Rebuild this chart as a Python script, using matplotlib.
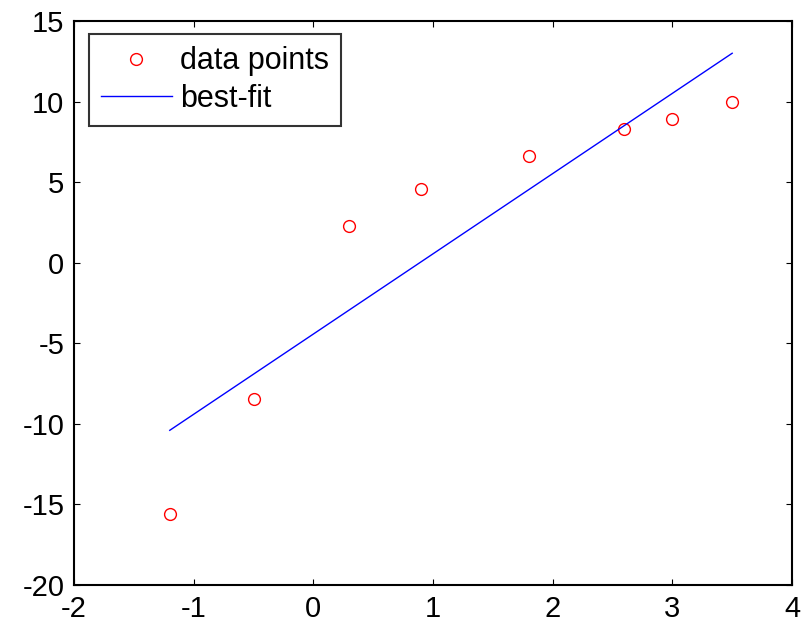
import matplotlib
matplotlib.use("Agg")
import matplotlib.pyplot as plt

plt.rcParams["font.family"] = ["Liberation Sans", "DejaVu Sans"]

# measured samples and the straight-line fit drawn through them
x_data = [-1.2, -0.5, 0.3, 0.9, 1.8, 2.6, 3.0, 3.5]
y_data = [-15.6, -8.45, 2.3, 4.6, 6.6, 8.3, 8.9, 10.0]
x_fit = [-1.2, 3.5]
y_fit = [-10.4, 13.0]

x_ticks = [-2, -1, 0, 1, 2, 3, 4]
y_ticks = [-20, -15, -10, -5, 0, 5, 10, 15]

fig = plt.figure(figsize=(8.1, 6.24), dpi=100)
ax = fig.add_axes([0.0914, 0.0625, 0.8864, 0.9038])

ax.plot(x_data, y_data, "o", color="red", markerfacecolor="none",
        markersize=8.5, markeredgewidth=1.0, label="data points")
ax.plot(x_fit, y_fit, "-", color="blue", linewidth=1.0, label="best-fit")

ax.set_xlim(-2, 4)
ax.set_ylim(-20, 15)
ax.set_xticks(x_ticks)
ax.set_yticks(y_ticks)
ax.set_xticklabels([str(t) for t in x_ticks])
ax.set_yticklabels([str(t) for t in y_ticks])

ax.tick_params(direction="in", length=4, width=0.8, labelsize=21,
               top=True, right=True, pad=7)
for s in ax.spines.values():
    s.set_linewidth(1.5)

leg = ax.legend(loc="upper left", bbox_to_anchor=(0.021, 0.977),
                fontsize=22, frameon=True, fancybox=False,
                edgecolor="black", borderpad=0.4, labelspacing=0.25,
                handlelength=2.3, handletextpad=0.28, borderaxespad=0)
leg.get_frame().set_linewidth(1.5)

fig.savefig("out.png", dpi=100)
